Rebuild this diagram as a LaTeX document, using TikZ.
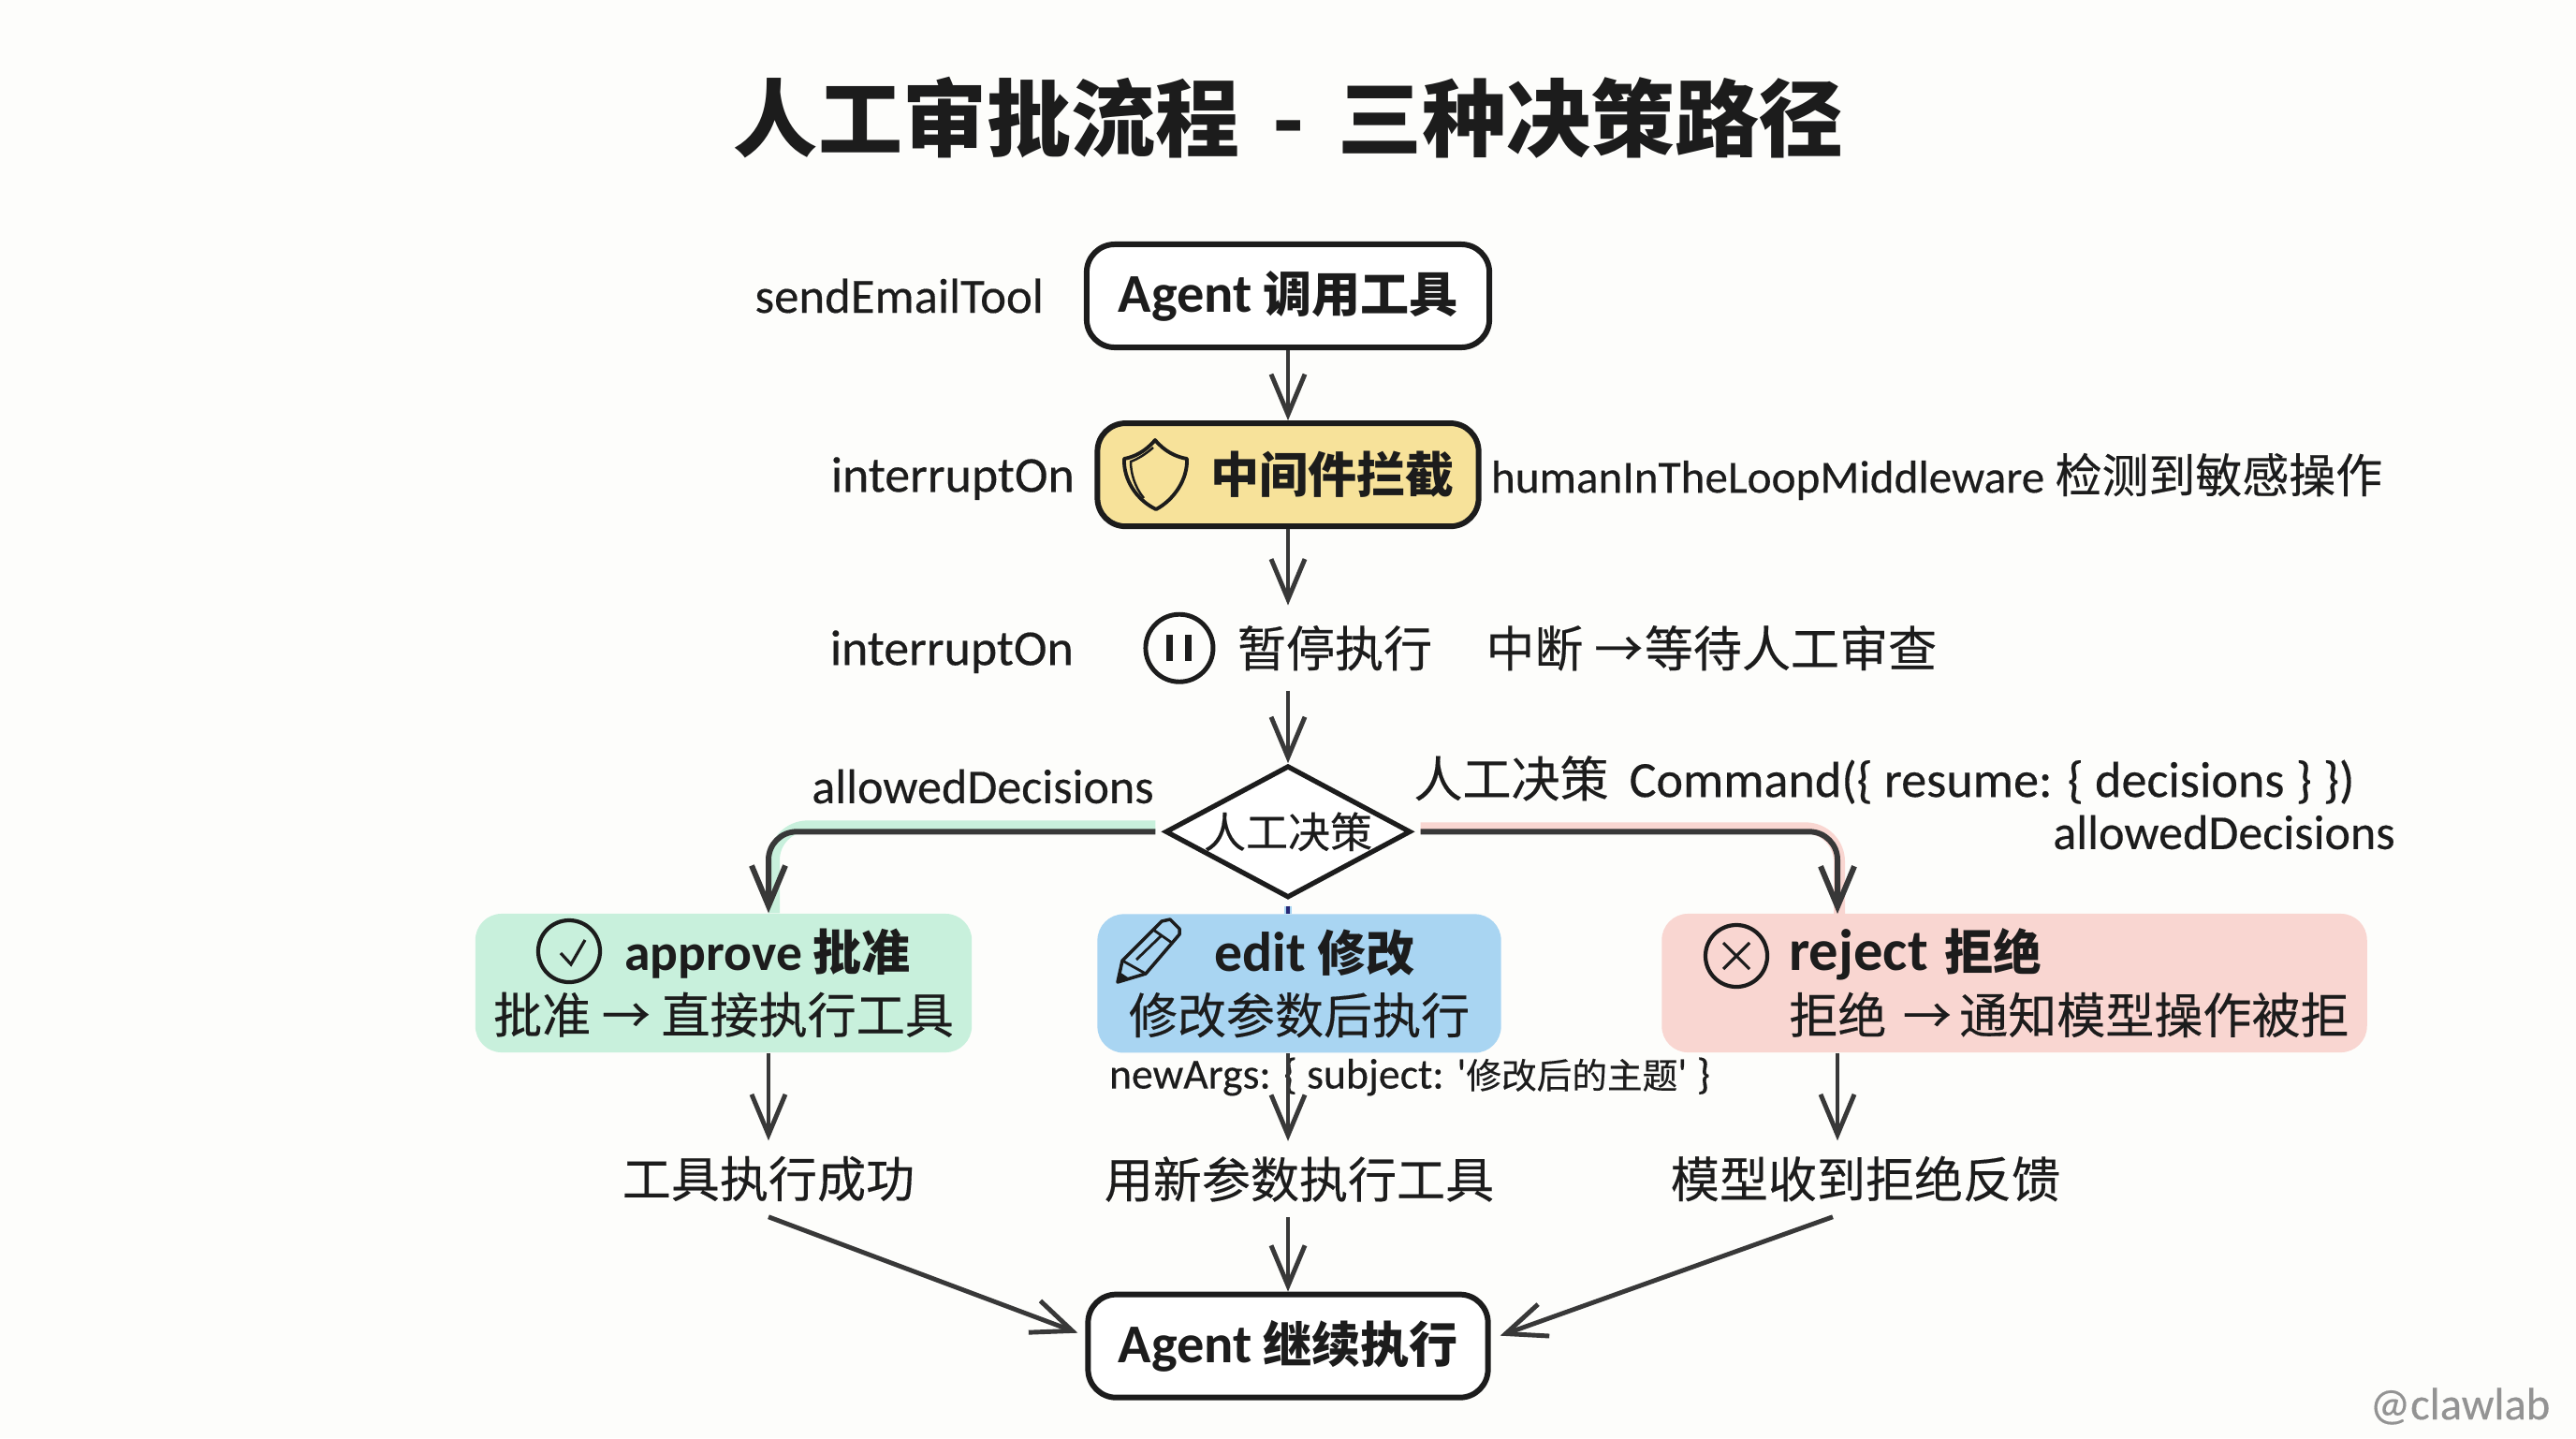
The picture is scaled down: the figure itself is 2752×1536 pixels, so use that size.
\documentclass[tikz,border=0pt]{standalone}
\usepackage{fontspec}
\setmainfont[FakeBold=0.3,BoldFeatures={FakeBold=0}]{Carlito}
\newfontfamily\cjkfont[FakeBold=0.3,BoldFeatures={FakeBold=0}]{Noto Sans CJK SC}
\newcommand\zh[1]{{\cjkfont #1}}
\usetikzlibrary{arrows.meta,positioning,shapes.geometric}
\definecolor{papercol}{HTML}{FDFDFB}
\definecolor{inkcol}{HTML}{1C1C1C}
\definecolor{linecol}{HTML}{383838}
\definecolor{yellowcol}{HTML}{F7E29A}
\definecolor{greencol}{HTML}{C8F0DC}
\definecolor{bluecol}{HTML}{A9D5F2}
\definecolor{redcol}{HTML}{F9D6D1}

\begin{document}
\begin{tikzpicture}[x=0.01cm,y=-0.01cm,>={Straight Barb[length=.43cm,width=.36cm]},
                        text=inkcol,
                        main node/.style={rectangle,rounded corners=.3cm,draw=inkcol,line width=1.7pt,fill=white,minimum height=1.1cm,inner sep=0,font=\fontsize{14.8}{18}\selectfont\bfseries},
                        choice node/.style={rectangle,rounded corners=.28cm,minimum height=1.48cm,inner sep=0,align=center,font=\fontsize{14.8}{19}\selectfont},
                        label node/.style={inner sep=0,font=\fontsize{14.8}{18}\selectfont},
                        result node/.style={label node,minimum height=.8cm},
                        decision node/.style={diamond,aspect=1.86,draw=inkcol,line width=1.5pt,fill=white,minimum width=2.62cm,minimum height=1.41cm,inner sep=-.14cm,font=\fontsize{12.8}{15}\selectfont},
                        icon node/.style={circle,draw=inkcol,line width=1.2pt,inner sep=0},
                        flow/.style={->,draw=linecol,line width=1.4pt},
                        halo/.style={line width=.12cm}]

      \fill[papercol] (0,0) rectangle (2752,1536);

      \node[font=\fontsize{25.6}{30}\selectfont\bfseries,inner sep=0] (0) at (1377,126) {\zh{人工审批流程\hspace{.15cm} - \hspace{.15cm}三种决策路径}};

      \node[main node,minimum width=4.3cm] (1) at (1376,316) {{\fontsize{16.6}{18}\selectfont Agent} \zh{调用工具}};
      \node[main node,fill=yellowcol,minimum width=4.07cm] (2) [below of=1,node distance=1.91cm] {\hspace*{.95cm}\zh{中间件拦截}};
      \node[result node,minimum height=.9cm] (3) [below of=2,node distance=1.85cm,xshift=.5cm] {\zh{暂停执行}};
      \node[decision node] (4) [below of=2,node distance=3.81cm] {\zh{人工决策}};

      \node[choice node,fill=greencol,minimum width=5.3cm] (5) at (773,1050) {\hspace*{.94cm}{\bfseries\fontsize{15.8}{19}\selectfont approve} {\fontsize{14.8}{19}\selectfont\bfseries\zh{批准}}\\\zh{批准 → 直接执行工具}};
      \node[choice node,fill=bluecol,minimum width=4.31cm] (6) [below of=4,node distance=1.62cm,xshift=.12cm] {\hspace*{.33cm}{\bfseries\fontsize{17}{19}\selectfont edit} {\fontsize{14.8}{19}\selectfont\bfseries\zh{修改}}\\\zh{修改参数后执行}};
      \node[choice node,fill=redcol,align=left,text width=7.53cm] (7) at (2152,1050) {\hspace*{1.36cm}{\bfseries\fontsize{17.8}{19}\selectfont reject} {\fontsize{14.8}{19}\selectfont\bfseries\zh{拒绝}}\\\hspace*{1.36cm}\zh{拒绝 →\hspace{-.09cm} 通知模型操作被拒}};

      \node[result node] (8) at (821,1259) {\zh{工具执行成功}};
      \node[result node] (9) [below of=6,node distance=2.09cm] {\zh{用新参数执行工具}};
      \node[result node] (10) at (1993,1259) {\zh{模型收到拒绝反馈}};
      \node[main node,minimum width=4.27cm] (11) [below of=4,node distance=5.49cm] {{\fontsize{16.6}{18}\selectfont Agent} \zh{继续执行}};

      \node[label node,font=\fontsize{15}{18}\selectfont] (12) [left of=1,node distance=4.15cm] {sendEmailTool};
      \node[label node,font=\fontsize{15.3}{18}\selectfont,yshift=-.04cm] (13) [left of=2,node distance=3.58cm] {interruptOn};
      \node[label node,font=\fontsize{14}{18}\selectfont] (14) at (2069,509) {humanInTheLoopMiddleware {\fontsize{14.2}{18}\selectfont\zh{检测到敏感操作}}};
      \node[label node,font=\fontsize{15.3}{18}\selectfont,yshift=-.04cm] (15) [left of=3,node distance=4.09cm] {interruptOn};
      \node[label node] (16) [right of=3,node distance=4.02cm] {\zh{中断 →\hspace{-.1cm} 等待人工审查}};
      \node[label node] (17) at (1050,840) {allowedDecisions};
      \node[label node,font=\fontsize{15.4}{18}\selectfont] (18) at (2013,833) {{\fontsize{14.8}{18}\selectfont\zh{人工决策}}\hspace{.22cm}Command(\{ resume: \{ decisions \} \})};
      \node[label node] (19) at (2376,889) {allowedDecisions};
      \node[label node,font=\fontsize{13}{13}\selectfont] (20) at (1506,1150) {newArgs: \{ subject: \textquotesingle{\fontsize{10.7}{13}\selectfont\zh{修改后的主题}}\textquotesingle{} \}};
      \node[label node,font=\fontsize{13.8}{16}\selectfont,text=gray!85] (21) at (2628,1502) {@clawlab};

      \node[icon node,minimum size=.72cm,line width=1.4pt] (22) [left of=3,node distance=1.66cm] {};
      \node[icon node,minimum size=.66cm] (23) at (608,1016) {};
      \node[icon node,minimum size=.66cm] (24) at (1855,1021) {};

      \coordinate (25) at (1963,976);

      \draw[line width=2pt,draw=inkcol] ([xshift=-.1cm,yshift=.14cm]22.center) -- ++(0,28) ([xshift=.1cm,yshift=.14cm]22.center) -- ++(0,28);
      \draw[line width=.9pt,draw=inkcol] ([xshift=-.09cm,yshift=-.02cm]23.center) -- ++(11,12) -- ++(15,-26);
      \draw[line width=.9pt,draw=inkcol] ([xshift=-.14cm,yshift=.14cm]24.center) -- ++(28,28) ([xshift=.14cm,yshift=.14cm]24.center) -- ++(-28,28);

      \draw[line width=1.1pt,draw=inkcol,line join=round] (1234,470) .. controls (1224,482) and (1212,488) .. (1201,490) .. controls (1200,512) and (1214,534) .. (1235,544) .. controls (1254,534) and (1269,512) .. (1268,490) .. controls (1256,488) and (1244,482) .. cycle;
      \draw[line width=.7pt,draw=inkcol] (1232,478) .. controls (1224,485) and (1216,490) .. (1208,493) .. controls (1208,505) and (1212,520) .. (1222,532);

      \draw[line width=1pt,draw=inkcol,line join=round] (1194,1049) -- (1199,1026) -- (1241,984) -- (1250,982) -- (1260,992) -- (1260,998) -- (1224,1040) -- cycle;
      \draw[line width=.8pt,draw=inkcol] (1199,1026) -- (1224,1040) (1232,993) -- (1252,1007) (1214,1025) -- (1240,1000);
      \fill[inkcol] (1194,1049) -- (1196,1038) -- (1205,1044) -- cycle;

      \draw[halo,draw=greencol,rounded corners=.36cm] (4.west) ++(-8,-6) -| ([xshift=.06cm]5.north -| 8);
      \draw[halo,draw=redcol,rounded corners=.36cm] (4.east) ++(8,-4) -| ([xshift=.02cm]25);
      \draw[line width=.08cm,draw=bluecol] (4.south) ++(0,6) -- (6.north -| 4);
      \draw[line width=.9pt,draw=linecol!70!blue] (4.south) ++(0,6) -- (6.north -| 4);

      \path[every edge/.style={draw,flow}]
        (1) edge (2)
        (2) edge (3.north -| 2)
        (3.south -| 2) edge (4)
        (5.south -| 8) edge (8)
        (6.south -| 4) edge (9.north -| 4)
        (25 |- 7.south) edge (25 |- 10.north)
        (8.south) edge ([yshift=.14cm,xshift=-.08cm]11.west)
        (9.south -| 4) edge (11)
        ([xshift=-.35cm]10.south) edge ([yshift=.11cm,xshift=.1cm]11.east);

      \draw[flow,line width=1.7pt,rounded corners=.3cm,shorten <=.08cm] (4.west) -| (5.north -| 8);
      \draw[flow,line width=1.7pt,rounded corners=.3cm,shorten <=.08cm] (4.east) -| (25);
    \end{tikzpicture}
\end{document}
